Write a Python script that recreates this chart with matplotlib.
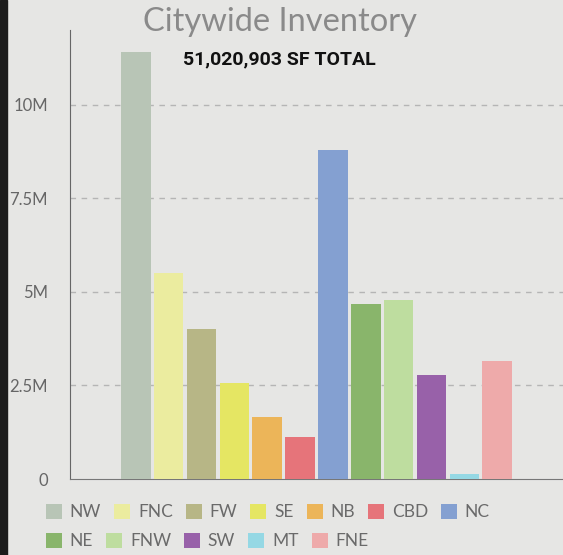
import matplotlib
matplotlib.use("Agg")
import matplotlib.pyplot as plt
from matplotlib.patches import Patch, Rectangle
from matplotlib.ticker import FuncFormatter

# submarket inventory (square feet)
regions = ["NW", "FNC", "FW", "SE", "NB", "CBD", "NC", "NE", "FNW", "SW", "MT", "FNE"]
inventory = [11.42e6, 5.51e6, 4.01e6, 2.57e6, 1.66e6, 1.12e6,
             8.80e6, 4.68e6, 4.79e6, 2.78e6, 0.13e6, 3.16e6]
colors = ["#b8c5b6", "#ebec9f", "#b7b686", "#e5e663", "#ecb559", "#e6747a",
          "#84a0d1", "#89b56b", "#bedd9f", "#9861a9", "#95d8e4", "#eeaaaa"]
yticks = [0, 2.5e6, 5e6, 7.5e6, 10e6]
title = "Citywide Inventory"
subtitle = "51,020,903 SF TOTAL"

bg = "#e6e6e4"
fig = plt.figure(figsize=(5.63, 5.55), dpi=100)
fig.set_facecolor(bg)
fig.patches.append(Rectangle((0, 0), 7 / 563, 1, transform=fig.transFigure,
                             color="#1c1c1c", zorder=0))

ax = fig.add_axes([70 / 563, 1 - 479 / 555, 1 - 70 / 563, 449 / 555])
ax.set_facecolor(bg)

xs = list(range(len(regions)))
ax.bar(xs, inventory, width=0.9, color=colors, zorder=3)
ax.set_xlim(-2, len(regions) + 1)
ax.set_ylim(0, 12e6)

ax.set_yticks(yticks)
ax.yaxis.set_major_formatter(FuncFormatter(
    lambda v, _: "0" if v == 0 else f"{v / 1e6:g}M"))
ax.tick_params(axis="y", length=0, pad=16, labelsize=12, labelcolor="#666666")
for lab in ax.get_yticklabels():
    lab.set_fontfamily("Lato")
ax.set_xticks([])

for y in yticks[1:]:
    ax.axhline(y, color="#b5b5b5", lw=1, ls=(0, (4, 4)), zorder=1)

for side in ["top", "right"]:
    ax.spines[side].set_visible(False)
ax.spines["left"].set_color("#666666")
ax.spines["bottom"].set_color("#777777")

fig.text(0.497, 1 - 22 / 555, title, ha="center", va="center",
         fontsize=23.5, color="#8a8a8a", family="Lato")
fig.text(0.497, 1 - 59 / 555, subtitle, ha="center", va="center",
         fontsize=14, color="#111111", family="Roboto", weight="bold")

handles = [Patch(facecolor=c, edgecolor="none") for c in colors]
leg_kw = dict(frameon=False, handlelength=0.92, handleheight=1.0,
              handletextpad=0.45, columnspacing=0.75, borderpad=0, borderaxespad=0,
              prop={"family": "Lato", "size": 12.5}, labelcolor="#6a6a6a")
leg1 = fig.legend(handles[:7], regions[:7], ncol=7, loc="center left",
                  bbox_to_anchor=(46 / 563, 1 - 512 / 555), **leg_kw)
leg2 = fig.legend(handles[7:], regions[7:], ncol=5, loc="center left",
                  bbox_to_anchor=(46 / 563, 1 - 541 / 555), **leg_kw)

fig.savefig("out.png", dpi=100, facecolor=bg)
